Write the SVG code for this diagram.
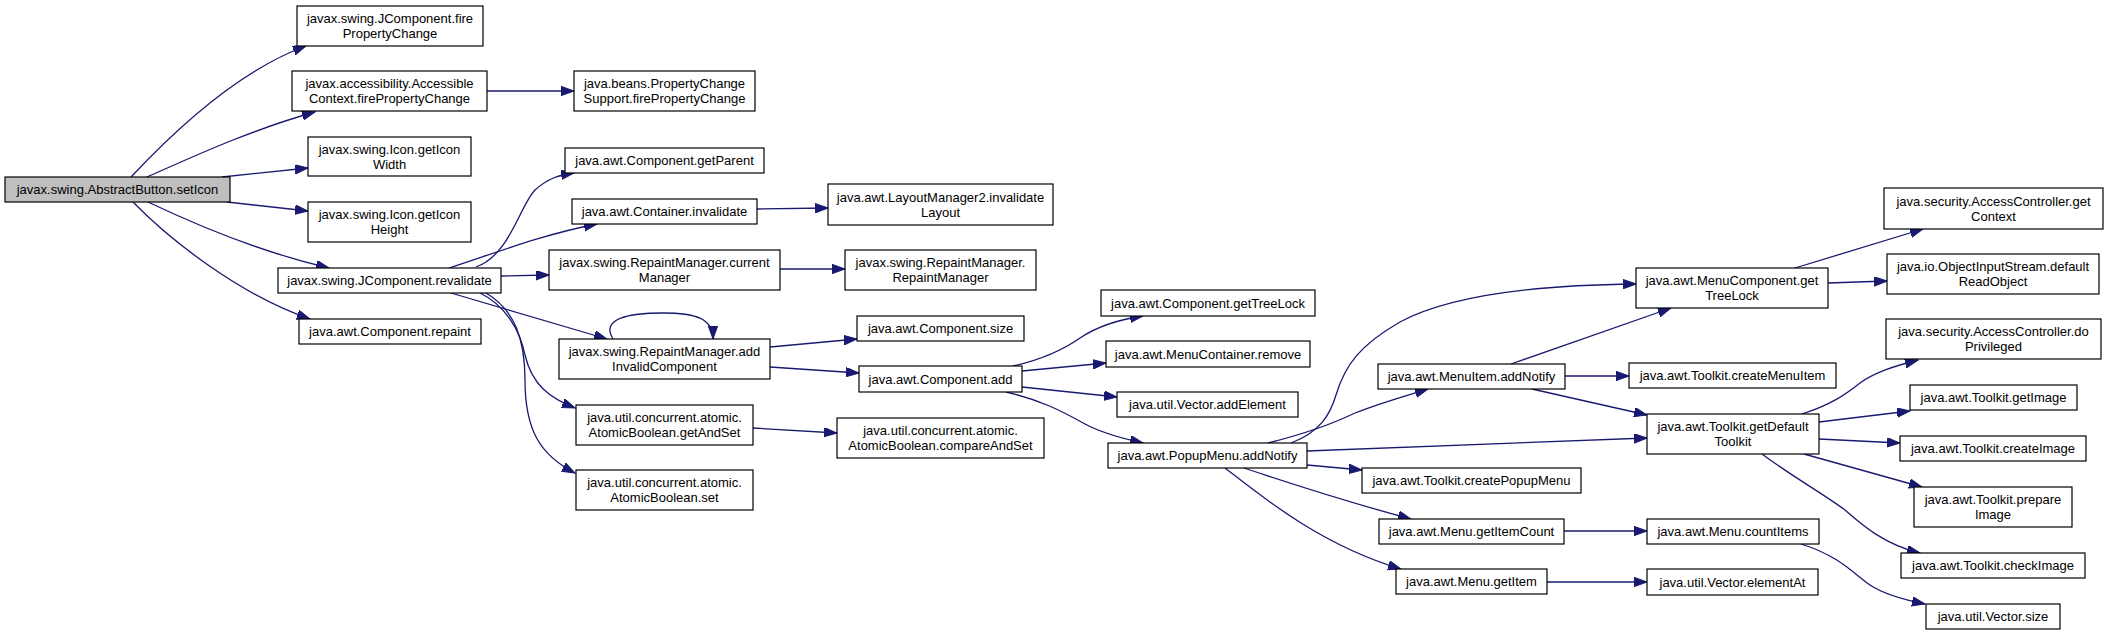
<svg xmlns="http://www.w3.org/2000/svg" width="2108" height="635" viewBox="0 0 2108 635">
<style>
.node rect{fill:#ffffff;stroke:#000000;stroke-width:1.2}
.node.root rect{fill:#bfbfbf}
.node text{font-family:"Liberation Sans",Arial,sans-serif;font-size:13px;text-anchor:middle;fill:#000}
.edges path{fill:none;stroke:#191970;stroke-width:1.3;marker-end:url(#ah)}
</style>
<defs>
<marker id="ah" markerWidth="14" markerHeight="10" refX="13" refY="4.7" orient="auto" markerUnits="userSpaceOnUse"><path d="M0,0 L13,4.7 L0,9.4 z" fill="#191970" stroke="#191970" stroke-width="1"/></marker>
</defs>
<rect width="2108" height="635" fill="#ffffff"/>
<g class="edges" id="edges">
<path d="M131,177 C175,130 240,70 306,46"/>
<path d="M147,177 C190,158 250,130 315,112"/>
<path d="M222,177 L308,168"/>
<path d="M227,202 L308,211"/>
<path d="M148,202 C190,222 260,252 329,268"/>
<path d="M133,202 C170,240 240,295 310,319"/>
<path d="M487,91 L574,91"/>
<path d="M476,267 C510,255 520,205 535,190 C548,178 560,175 574,173"/>
<path d="M449,268 C490,255 540,235 597,224"/>
<path d="M501,276 L549,275"/>
<path d="M451,293 L607,339"/>
<path d="M480,293 C505,305 520,330 525,355 C532,385 550,398 575,408"/>
<path d="M486,293 C515,310 525,340 525,380 C525,430 540,455 575,473"/>
<path d="M757,209 L828,208"/>
<path d="M780,269 L845,269"/>
<path d="M613,339 C600,318 630,313 663,313 C695,313 713,318 713,339"/>
<path d="M770,347 L857,339"/>
<path d="M770,367 L859,373"/>
<path d="M753,428 L837,433"/>
<path d="M1013,366 C1040,360 1060,352 1080,338 C1095,328 1115,320 1143,316"/>
<path d="M1022,371 L1106,363"/>
<path d="M1022,387 L1117,397"/>
<path d="M1006,392 C1040,400 1060,410 1085,424 C1100,432 1120,438 1143,443"/>
<path d="M1291,443 C1320,432 1330,415 1336,395 C1345,365 1360,345 1400,322 C1450,295 1540,285 1636,284"/>
<path d="M1268,443 C1300,435 1330,425 1355,413 C1380,403 1405,396 1428,389"/>
<path d="M1307,451 L1647,438"/>
<path d="M1307,465 L1362,470"/>
<path d="M1244,468 C1280,480 1340,500 1411,519"/>
<path d="M1225,468 C1260,495 1320,545 1401,569"/>
<path d="M1511,364 L1671,308"/>
<path d="M1565,376 L1629,376"/>
<path d="M1532,389 L1647,415"/>
<path d="M1564,531 L1647,531"/>
<path d="M1547,582 L1647,582"/>
<path d="M1795,268 L1923,229"/>
<path d="M1828,283 L1887,281"/>
<path d="M1802,414 C1830,405 1845,395 1860,383 C1875,372 1895,366 1918,360"/>
<path d="M1819,422 L1910,411"/>
<path d="M1819,439 L1900,443"/>
<path d="M1804,454 L1922,487"/>
<path d="M1762,454 C1790,475 1825,495 1845,510 C1862,525 1885,545 1920,553"/>
<path d="M1801,544 C1840,556 1855,575 1870,585 C1885,595 1905,600 1925,604"/>
</g>
<g class="node root" id="n0"><rect x="5" y="177" width="225" height="25"/><text x="117.5" y="194">javax.swing.AbstractButton.setIcon</text></g>
<g class="node" id="n1"><rect x="297" y="6" width="186" height="40"/><text x="390" y="23">javax.swing.JComponent.fire</text><text x="390" y="38">PropertyChange</text></g>
<g class="node" id="n2"><rect x="292" y="71" width="195" height="40"/><text x="389.5" y="88">javax.accessibility.Accessible</text><text x="389.5" y="103">Context.firePropertyChange</text></g>
<g class="node" id="n3"><rect x="308" y="137" width="163" height="39"/><text x="389.5" y="153.5">javax.swing.Icon.getIcon</text><text x="389.5" y="168.5">Width</text></g>
<g class="node" id="n4"><rect x="308" y="202" width="163" height="40"/><text x="389.5" y="219">javax.swing.Icon.getIcon</text><text x="389.5" y="234">Height</text></g>
<g class="node" id="n5"><rect x="278" y="268" width="223" height="25"/><text x="389.5" y="285">javax.swing.JComponent.revalidate</text></g>
<g class="node" id="n6"><rect x="299" y="319" width="182" height="25"/><text x="390" y="336">java.awt.Component.repaint</text></g>
<g class="node" id="n7"><rect x="574" y="71" width="181" height="40"/><text x="664.5" y="88">java.beans.PropertyChange</text><text x="664.5" y="103">Support.firePropertyChange</text></g>
<g class="node" id="n8"><rect x="565" y="148" width="199" height="25"/><text x="664.5" y="165">java.awt.Component.getParent</text></g>
<g class="node" id="n9"><rect x="572" y="199" width="185" height="25"/><text x="664.5" y="216">java.awt.Container.invalidate</text></g>
<g class="node" id="n10"><rect x="828" y="184" width="225" height="41"/><text x="940.5" y="201.5">java.awt.LayoutManager2.invalidate</text><text x="940.5" y="216.5">Layout</text></g>
<g class="node" id="n11"><rect x="549" y="250" width="231" height="40"/><text x="664.5" y="267">javax.swing.RepaintManager.current</text><text x="664.5" y="282">Manager</text></g>
<g class="node" id="n12"><rect x="845" y="250" width="191" height="40"/><text x="940.5" y="267">javax.swing.RepaintManager.</text><text x="940.5" y="282">RepaintManager</text></g>
<g class="node" id="n13"><rect x="559" y="339" width="211" height="40"/><text x="664.5" y="356">javax.swing.RepaintManager.add</text><text x="664.5" y="371">InvalidComponent</text></g>
<g class="node" id="n14"><rect x="857" y="316" width="167" height="25"/><text x="940.5" y="333">java.awt.Component.size</text></g>
<g class="node" id="n15"><rect x="859" y="366" width="163" height="26"/><text x="940.5" y="383.5">java.awt.Component.add</text></g>
<g class="node" id="n16"><rect x="576" y="405" width="177" height="40"/><text x="664.5" y="422">java.util.concurrent.atomic.</text><text x="664.5" y="437">AtomicBoolean.getAndSet</text></g>
<g class="node" id="n17"><rect x="837" y="418" width="207" height="40"/><text x="940.5" y="435">java.util.concurrent.atomic.</text><text x="940.5" y="450">AtomicBoolean.compareAndSet</text></g>
<g class="node" id="n18"><rect x="576" y="470" width="177" height="40"/><text x="664.5" y="487">java.util.concurrent.atomic.</text><text x="664.5" y="502">AtomicBoolean.set</text></g>
<g class="node" id="n19"><rect x="1101" y="290" width="214" height="26"/><text x="1208" y="307.5">java.awt.Component.getTreeLock</text></g>
<g class="node" id="n20"><rect x="1106" y="341" width="204" height="26"/><text x="1208" y="358.5">java.awt.MenuContainer.remove</text></g>
<g class="node" id="n21"><rect x="1117" y="392" width="181" height="25"/><text x="1207.5" y="409">java.util.Vector.addElement</text></g>
<g class="node" id="n22"><rect x="1108" y="443" width="199" height="25"/><text x="1207.5" y="460">java.awt.PopupMenu.addNotify</text></g>
<g class="node" id="n23"><rect x="1378" y="364" width="187" height="25"/><text x="1471.5" y="381">java.awt.MenuItem.addNotify</text></g>
<g class="node" id="n24"><rect x="1362" y="468" width="219" height="25"/><text x="1471.5" y="485">java.awt.Toolkit.createPopupMenu</text></g>
<g class="node" id="n25"><rect x="1379" y="519" width="185" height="25"/><text x="1471.5" y="536">java.awt.Menu.getItemCount</text></g>
<g class="node" id="n26"><rect x="1396" y="569" width="151" height="25"/><text x="1471.5" y="586">java.awt.Menu.getItem</text></g>
<g class="node" id="n27"><rect x="1636" y="268" width="192" height="40"/><text x="1732" y="285">java.awt.MenuComponent.get</text><text x="1732" y="300">TreeLock</text></g>
<g class="node" id="n28"><rect x="1629" y="363" width="207" height="25"/><text x="1732.5" y="380">java.awt.Toolkit.createMenuItem</text></g>
<g class="node" id="n29"><rect x="1647" y="414" width="172" height="40"/><text x="1733" y="431">java.awt.Toolkit.getDefault</text><text x="1733" y="446">Toolkit</text></g>
<g class="node" id="n30"><rect x="1647" y="519" width="172" height="25"/><text x="1733" y="536">java.awt.Menu.countItems</text></g>
<g class="node" id="n31"><rect x="1647" y="569" width="171" height="26"/><text x="1732.5" y="586.5">java.util.Vector.elementAt</text></g>
<g class="node" id="n32"><rect x="1884" y="188" width="219" height="41"/><text x="1993.5" y="205.5">java.security.AccessController.get</text><text x="1993.5" y="220.5">Context</text></g>
<g class="node" id="n33"><rect x="1887" y="254" width="212" height="40"/><text x="1993" y="271">java.io.ObjectInputStream.default</text><text x="1993" y="286">ReadObject</text></g>
<g class="node" id="n34"><rect x="1886" y="319" width="215" height="40"/><text x="1993.5" y="336">java.security.AccessController.do</text><text x="1993.5" y="351">Privileged</text></g>
<g class="node" id="n35"><rect x="1910" y="385" width="167" height="25"/><text x="1993.5" y="402">java.awt.Toolkit.getImage</text></g>
<g class="node" id="n36"><rect x="1900" y="436" width="186" height="25"/><text x="1993" y="453">java.awt.Toolkit.createImage</text></g>
<g class="node" id="n37"><rect x="1914" y="487" width="158" height="40"/><text x="1993" y="504">java.awt.Toolkit.prepare</text><text x="1993" y="519">Image</text></g>
<g class="node" id="n38"><rect x="1901" y="553" width="184" height="25"/><text x="1993" y="570">java.awt.Toolkit.checkImage</text></g>
<g class="node" id="n39"><rect x="1926" y="604" width="134" height="25"/><text x="1993" y="621">java.util.Vector.size</text></g>
</svg>
